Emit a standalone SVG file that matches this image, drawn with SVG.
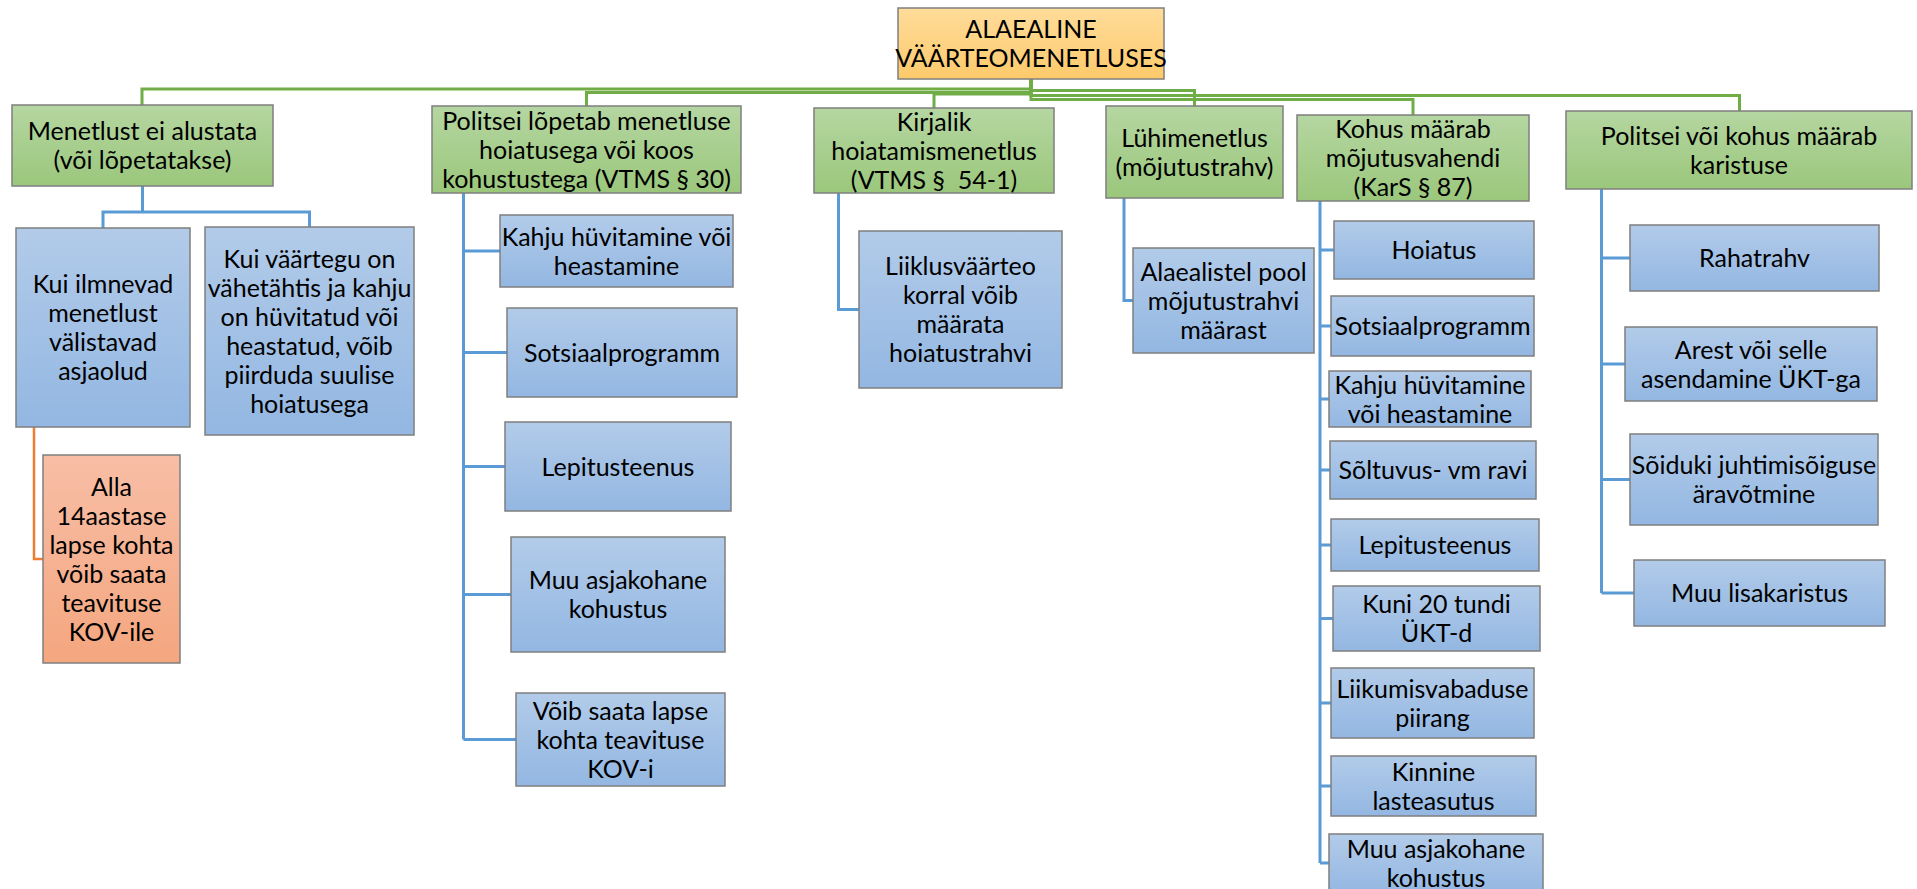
<svg xmlns="http://www.w3.org/2000/svg" width="1917" height="889" viewBox="0 0 1917 889">
<defs>
<linearGradient id="gGreen" x1="0" y1="0" x2="0" y2="1"><stop offset="0" stop-color="#b5d6a1"/><stop offset="1" stop-color="#9bc77c"/></linearGradient>
<linearGradient id="gBlue" x1="0" y1="0" x2="0" y2="1"><stop offset="0" stop-color="#b2cbe9"/><stop offset="1" stop-color="#93b7e2"/></linearGradient>
<linearGradient id="gOrange" x1="0" y1="0" x2="0" y2="1"><stop offset="0" stop-color="#f8bea6"/><stop offset="1" stop-color="#f4a67f"/></linearGradient>
<linearGradient id="gYellow" x1="0" y1="0" x2="0" y2="1"><stop offset="0" stop-color="#ffdc9a"/><stop offset="1" stop-color="#fdca6b"/></linearGradient>
</defs>
<style>
.box{stroke:#7f7f7f;stroke-width:1.5}
.g{fill:url(#gGreen)}
.b{fill:url(#gBlue)}
.o{fill:url(#gOrange)}
.y{fill:url(#gYellow)}
text{font-family:Lato,"Open Sans","Liberation Sans",sans-serif;font-size:25px;fill:#000;text-anchor:middle}
.cg{fill:none;stroke:#70ad47;stroke-width:3}
.cb{fill:none;stroke:#5b9bd5;stroke-width:3}
.co{fill:none;stroke:#ed7d31;stroke-width:2.5}
</style>
<rect width="1917" height="889" fill="#ffffff"/>
<g id="connectors">
<path class="cg" d="M1031 79V89H142V105"/>
<path class="cg" d="M1031 79V92.5H586.5V106"/>
<path class="cg" d="M1031 79V94H934V108"/>
<path class="cg" d="M1031 79V90.5H1194.5V106"/>
<path class="cg" d="M1031 79V95.5H1739.5V111"/>
<path class="cg" d="M1031 79V99.5H1413V115"/>
<path class="cb" d="M142.5 186V212M103 228V212H309.5V227"/>
<path class="co" d="M34 427V559H43"/>
<path class="cb" d="M463.5 193V739.5M463.5 251H500M463.5 352.5H507M463.5 466.5H505M463.5 594.5H511M463.5 739.5H516"/>
<path class="cb" d="M838.5 193V309.5H859"/>
<path class="cb" d="M1124 198V300.5H1133"/>
<path class="cb" d="M1320 201V863M1320 250H1334M1320 326H1331M1320 399H1329M1320 470H1330M1320 545H1331M1320 618.5H1333M1320 703H1331M1320 786H1331M1320 863H1329"/>
<path class="cb" d="M1601.5 189V593M1601.5 258H1630M1601.5 364H1625M1601.5 479.5H1630M1601.5 593H1634"/>
</g>
<g id="root"><rect class="box y" x="898" y="8" width="266" height="71"/><text x="1031" y="38">ALAEALINE</text><text x="1031" y="67">VÄÄRTEOMENETLUSES</text></g>
<g id="n1"><rect class="box g" x="12" y="105" width="261" height="81"/><text x="142.5" y="140">Menetlust ei alustata</text><text x="142.5" y="169">(või lõpetatakse)</text></g>
<g id="n2"><rect class="box g" x="432" y="106" width="309" height="87"/><text x="586.5" y="129.5">Politsei lõpetab menetluse</text><text x="586.5" y="158.5">hoiatusega või koos</text><text x="586.5" y="187.5">kohustustega (VTMS § 30)</text></g>
<g id="n3"><rect class="box g" x="814" y="108" width="240" height="85"/><text x="934" y="130.5">Kirjalik</text><text x="934" y="159.5">hoiatamismenetlus</text><text x="934" y="188.5">(VTMS §&#160; 54-1)</text></g>
<g id="n4"><rect class="box g" x="1106" y="106" width="177" height="92"/><text x="1194.5" y="146.5">Lühimenetlus</text><text x="1194.5" y="175.5">(mõjutustrahv)</text></g>
<g id="n5"><rect class="box g" x="1297" y="115" width="232" height="86"/><text x="1413" y="138">Kohus määrab</text><text x="1413" y="167">mõjutusvahendi</text><text x="1413" y="196">(KarS § 87)</text></g>
<g id="n6"><rect class="box g" x="1566" y="111" width="346" height="78"/><text x="1739" y="144.5">Politsei või kohus määrab</text><text x="1739" y="173.5">karistuse</text></g>
<g id="n1a"><rect class="box b" x="16" y="228" width="174" height="199"/><text x="103" y="293">Kui ilmnevad</text><text x="103" y="322">menetlust</text><text x="103" y="351">välistavad</text><text x="103" y="380">asjaolud</text></g>
<g id="n1b"><rect class="box b" x="205" y="227" width="209" height="208"/><text x="309.5" y="267.5">Kui väärtegu on</text><text x="309.5" y="296.5">vähetähtis ja kahju</text><text x="309.5" y="325.5">on hüvitatud või</text><text x="309.5" y="354.5">heastatud, võib</text><text x="309.5" y="383.5">piirduda suulise</text><text x="309.5" y="412.5">hoiatusega</text></g>
<g id="n1c"><rect class="box o" x="43" y="455" width="137" height="208"/><text x="111.5" y="495.5">Alla</text><text x="111.5" y="524.5">14aastase</text><text x="111.5" y="553.5">lapse kohta</text><text x="111.5" y="582.5">võib saata</text><text x="111.5" y="611.5">teavituse</text><text x="111.5" y="640.5">KOV-ile</text></g>
<g id="n2a"><rect class="box b" x="500" y="215" width="233" height="72"/><text x="616.5" y="245.5">Kahju hüvitamine või</text><text x="616.5" y="274.5">heastamine</text></g>
<g id="n2b"><rect class="box b" x="507" y="308" width="230" height="89"/><text x="622" y="361.5">Sotsiaalprogramm</text></g>
<g id="n2c"><rect class="box b" x="505" y="422" width="226" height="89"/><text x="618" y="475.5">Lepitusteenus</text></g>
<g id="n2d"><rect class="box b" x="511" y="537" width="214" height="115"/><text x="618" y="589">Muu asjakohane</text><text x="618" y="618">kohustus</text></g>
<g id="n2e"><rect class="box b" x="516" y="693" width="209" height="93"/><text x="620.5" y="719.5">Võib saata lapse</text><text x="620.5" y="748.5">kohta teavituse</text><text x="620.5" y="777.5">KOV-i</text></g>
<g id="n3a"><rect class="box b" x="859" y="231" width="203" height="157"/><text x="960.5" y="275">Liiklusväärteo</text><text x="960.5" y="304">korral võib</text><text x="960.5" y="333">määrata</text><text x="960.5" y="362">hoiatustrahvi</text></g>
<g id="n4a"><rect class="box b" x="1133" y="248" width="181" height="105"/><text x="1223.5" y="280.5">Alaealistel pool</text><text x="1223.5" y="309.5">mõjutustrahvi</text><text x="1223.5" y="338.5">määrast</text></g>
<g id="n5a"><rect class="box b" x="1334" y="221" width="200" height="58"/><text x="1434" y="259">Hoiatus</text></g>
<g id="n5b"><rect class="box b" x="1331" y="296" width="203" height="60"/><text x="1432.5" y="335">Sotsiaalprogramm</text></g>
<g id="n5c"><rect class="box b" x="1329" y="371" width="202" height="56"/><text x="1430" y="393.5">Kahju hüvitamine</text><text x="1430" y="422.5">või heastamine</text></g>
<g id="n5d"><rect class="box b" x="1330" y="441" width="206" height="58"/><text x="1433" y="479">Sõltuvus- vm ravi</text></g>
<g id="n5e"><rect class="box b" x="1331" y="519" width="208" height="52"/><text x="1435" y="554">Lepitusteenus</text></g>
<g id="n5f"><rect class="box b" x="1333" y="586" width="207" height="65"/><text x="1436.5" y="613">Kuni 20 tundi</text><text x="1436.5" y="642">ÜKT-d</text></g>
<g id="n5g"><rect class="box b" x="1331" y="668" width="203" height="70"/><text x="1432.5" y="697.5">Liikumisvabaduse</text><text x="1432.5" y="726.5">piirang</text></g>
<g id="n5h"><rect class="box b" x="1331" y="756" width="205" height="60"/><text x="1433.5" y="780.5">Kinnine</text><text x="1433.5" y="809.5">lasteasutus</text></g>
<g id="n5i"><rect class="box b" x="1329" y="834" width="214" height="60"/><text x="1436" y="857.5">Muu asjakohane</text><text x="1436" y="886.5">kohustus</text></g>
<g id="n6a"><rect class="box b" x="1630" y="225" width="249" height="66"/><text x="1754.5" y="267">Rahatrahv</text></g>
<g id="n6b"><rect class="box b" x="1625" y="327" width="252" height="74"/><text x="1751" y="358.5">Arest või selle</text><text x="1751" y="387.5">asendamine ÜKT-ga</text></g>
<g id="n6c"><rect class="box b" x="1630" y="434" width="248" height="91"/><text x="1754" y="474">Sõiduki juhtimisõiguse</text><text x="1754" y="503">äravõtmine</text></g>
<g id="n6d"><rect class="box b" x="1634" y="560" width="251" height="66"/><text x="1759.5" y="602">Muu lisakaristus</text></g>
</svg>
